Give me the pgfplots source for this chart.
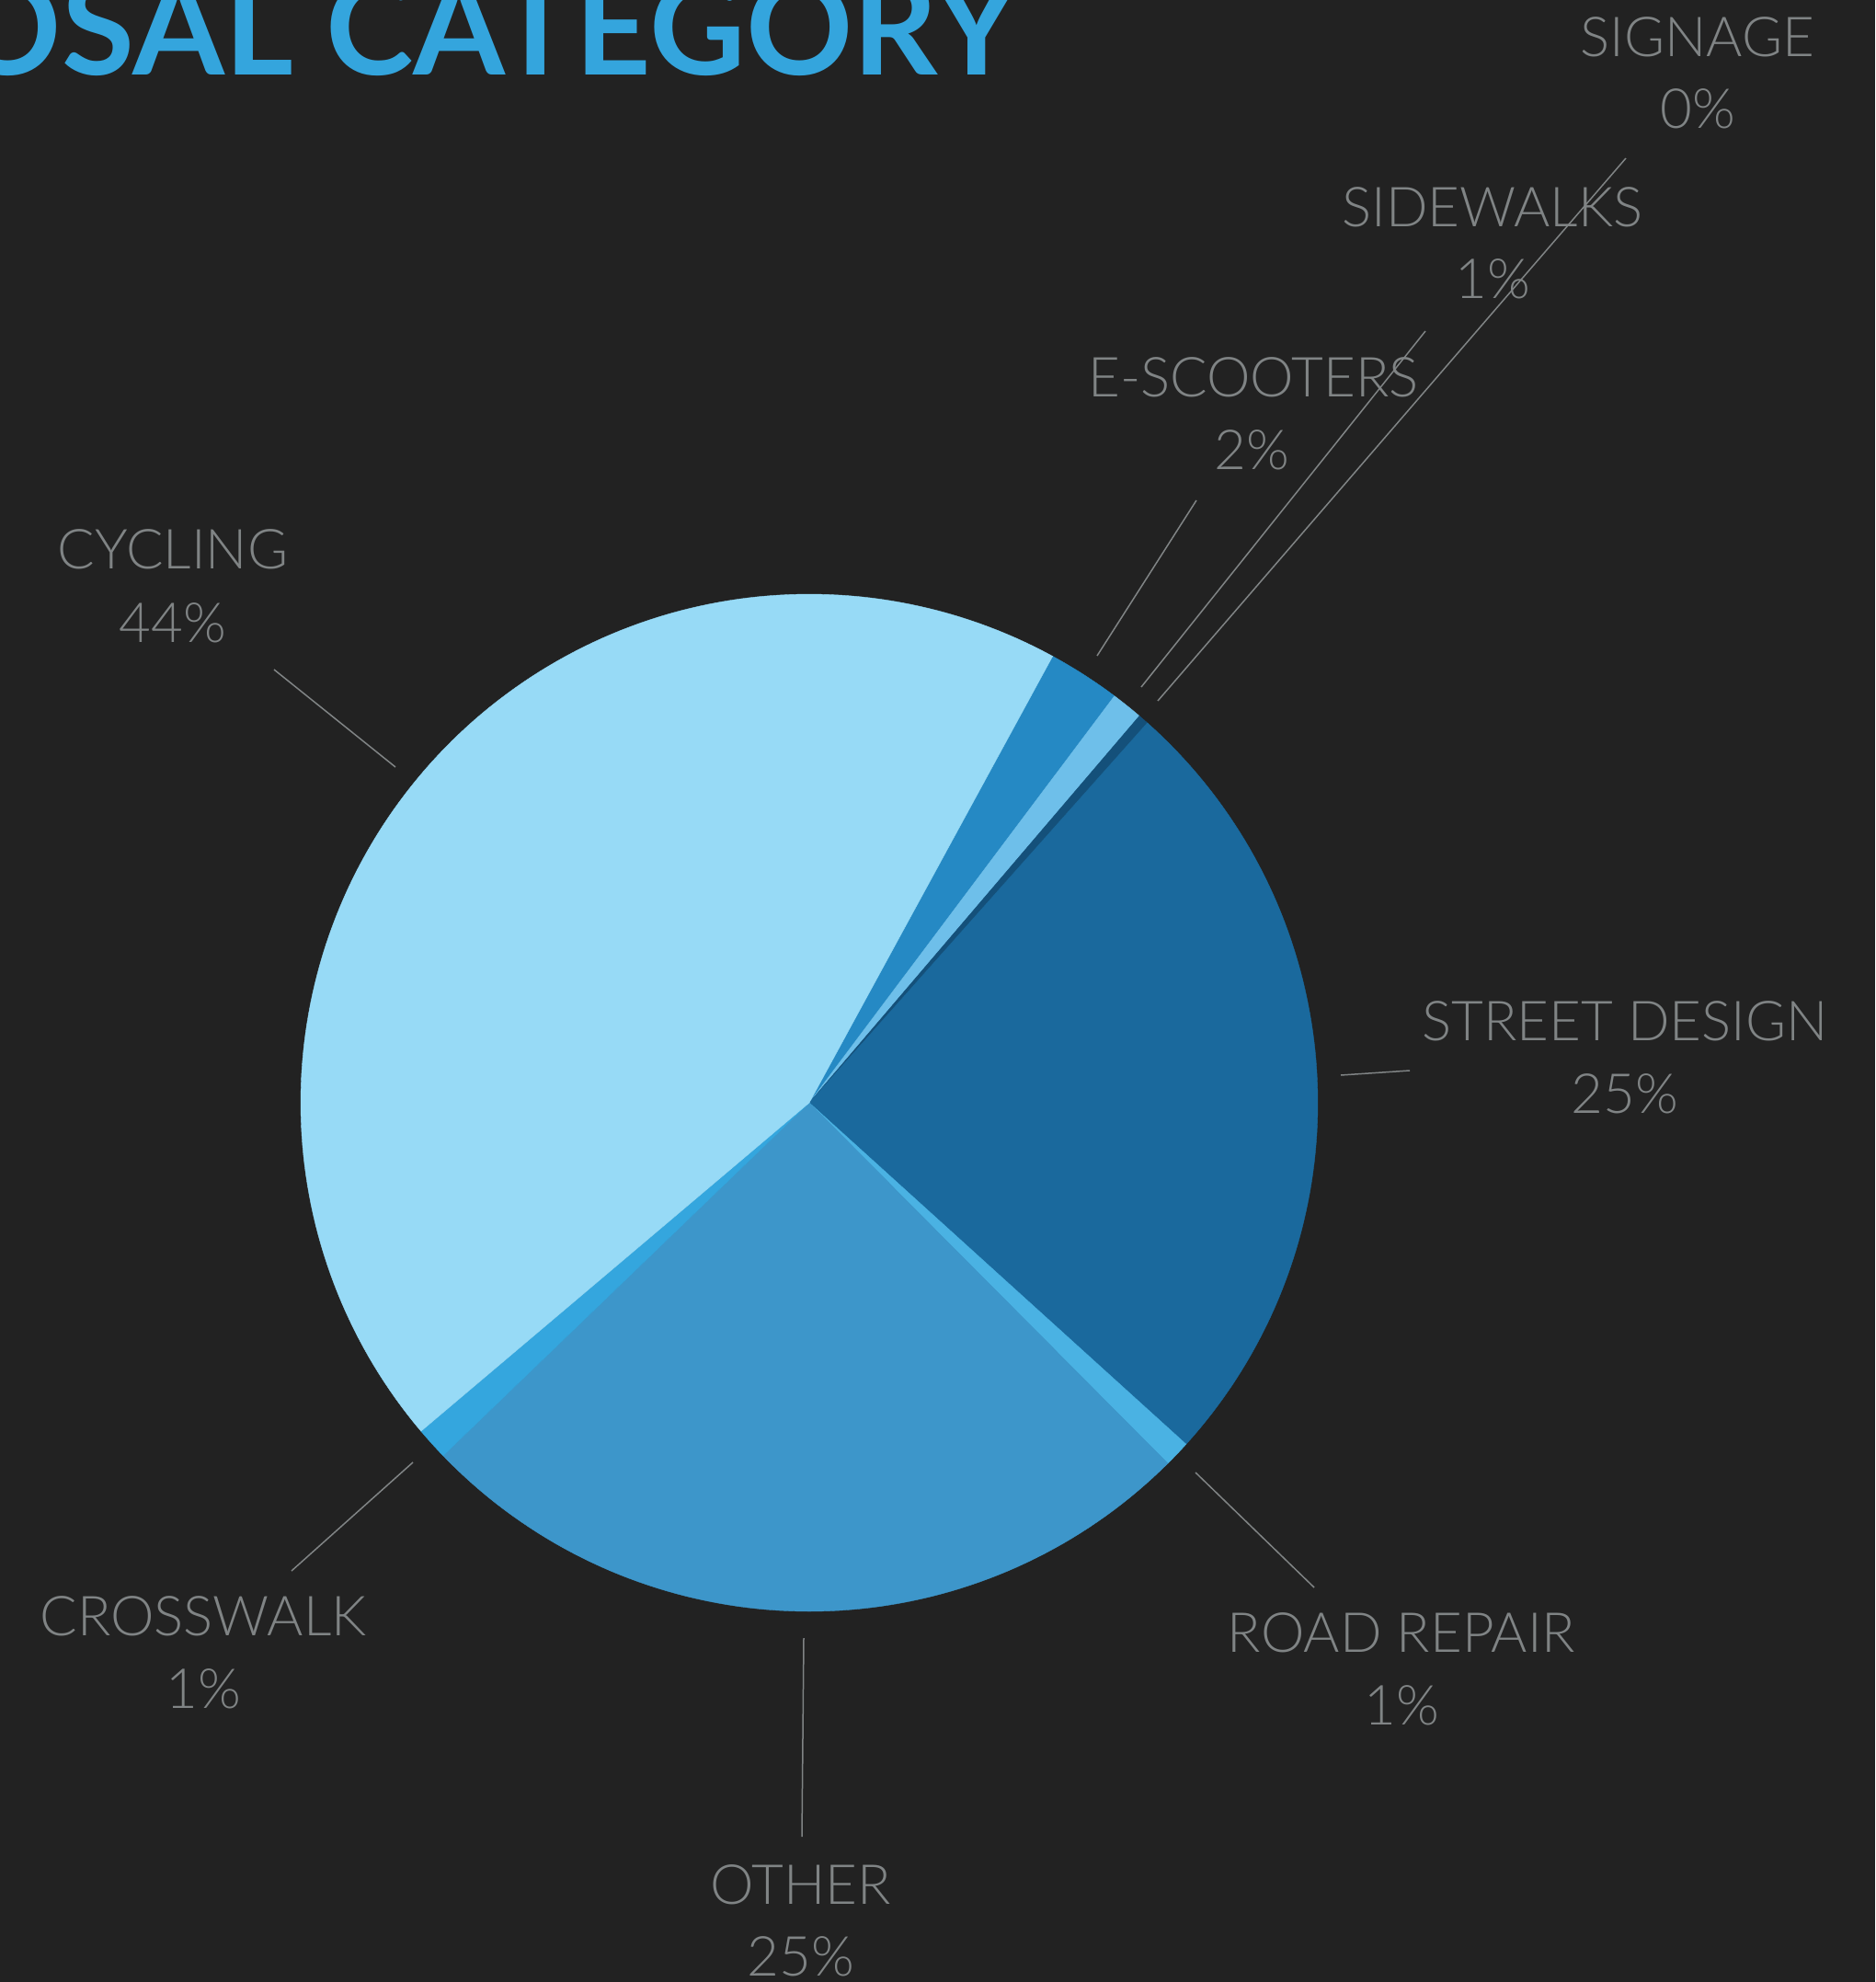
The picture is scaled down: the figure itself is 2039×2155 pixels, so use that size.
\documentclass[border=0pt]{standalone}
\usepackage{pgfplots}
\pgfplotsset{compat=1.18}
\usepgfplotslibrary{polar}
\usepackage{fontspec}
\setmainfont{Lato}
\newfontfamily\lbl{Lato Light}
\newfontfamily\ttl{Lato Bold}
\definecolor{bg}{HTML}{222222}
\definecolor{ttlc}{HTML}{34A5DD}
\definecolor{lab}{RGB}{128,132,133}
\definecolor{cCyc}{HTML}{97DAF6}
\definecolor{cEsc}{HTML}{2589C4}
\definecolor{cSid}{HTML}{6EBFEA}
\definecolor{cSig}{HTML}{14507A}
\definecolor{cStr}{HTML}{1A699D}
\definecolor{cRoa}{HTML}{4AB2E3}
\definecolor{cOth}{HTML}{3D96CA}
\definecolor{cCro}{HTML}{34A6DE}
\begin{document}
\begin{tikzpicture}[x=0.5pt,y=-0.5pt]
\path[use as bounding box] (0,0) rectangle (2039,2155);
\fill[bg] (0,0) rectangle (2039,2155);
\begin{scope}
\clip (0,0) rectangle (2039,2155);
% title (cut at the top/left as in the reference)
\node[anchor=base east, inner sep=0pt, text=ttlc, font=\ttl\fontsize{72}{86}\selectfont] at (1108,82) {PROPOSALS BY PROPOSAL CATEGORY};
% labels
\tikzset{lb/.style={anchor=base, inner sep=0pt, text=lab, font=\lbl\fontsize{30}{36}\selectfont}}
\node[lb] at (1846,62) {SIGNAGE};      \node[lb] at (1846,140) {0\%};
\node[lb] at (1623,247) {SIDEWALKS};    \node[lb] at (1623,325) {1\%};
\node[lb] at (1363,431) {E-SCOOTERS};   \node[lb] at (1361,510) {2\%};
\node[lb] at (188,618) {CYCLING};       \node[lb] at (188,698) {44\%};
\node[lb] at (1767,1131) {STREET DESIGN}; \node[lb] at (1767,1210) {25\%};
\node[lb] at (221,1778) {CROSSWALK};    \node[lb] at (221,1857) {1\%};
\node[lb] at (1524,1796) {ROAD REPAIR}; \node[lb] at (1524,1875) {1\%};
\node[lb] at (871,2070) {OTHER};        \node[lb] at (871,2148) {25\%};
% leader lines
\tikzset{ll/.style={draw=lab, line width=0.75pt}}
\draw[ll] (1768,172) -- (1259,762);
\draw[ll] (1550,360) -- (1241,747);
\draw[ll] (1301,544) -- (1193,713);
\draw[ll] (298,728) -- (430,834);
\draw[ll] (1533,1164) -- (1458,1169);
\draw[ll] (1300,1601) -- (1429,1726);
\draw[ll] (874,1781) -- (872,1997);
\draw[ll] (449,1590) -- (317,1708);
\end{scope}
% pie: shares (%) E-scooters 2.30, Sidewalks 1.00, Signage 0.33, Street design 25.14,
% Road repair 0.83, Other 25.25, Crosswalk 1.03, Cycling 44.12; start at 61.4 deg, clockwise
\begin{polaraxis}[at={(440pt,-599.5pt)}, anchor=origin, scale only axis,
  width=553pt, height=553pt, xmin=0, xmax=360, ymin=0, ymax=1, hide axis, clip=false]
\addplot[draw=cEsc, line width=0.2pt, fill=cEsc, domain=53.12:61.4, samples=10] {1} -- (axis cs:0,0) -- cycle;
\addplot[draw=cSid, line width=0.2pt, fill=cSid, domain=49.52:53.12, samples=6] {1} -- (axis cs:0,0) -- cycle;
\addplot[draw=cSig, line width=0.2pt, fill=cSig, domain=48.33:49.52, samples=4] {1} -- (axis cs:0,0) -- cycle;
\addplot[draw=cStr, line width=0.2pt, fill=cStr, domain=-42.17:48.33, samples=80] {1} -- (axis cs:0,0) -- cycle;
\addplot[draw=cRoa, line width=0.2pt, fill=cRoa, domain=-45.16:-42.17, samples=5] {1} -- (axis cs:0,0) -- cycle;
\addplot[draw=cOth, line width=0.2pt, fill=cOth, domain=-136.06:-45.16, samples=80] {1} -- (axis cs:0,0) -- cycle;
\addplot[draw=cCro, line width=0.2pt, fill=cCro, domain=-139.77:-136.06, samples=6] {1} -- (axis cs:0,0) -- cycle;
\addplot[draw=cCyc, line width=0.2pt, fill=cCyc, domain=-298.6:-139.77, samples=140] {1} -- (axis cs:0,0) -- cycle;
\end{polaraxis}
\end{tikzpicture}
\end{document}
